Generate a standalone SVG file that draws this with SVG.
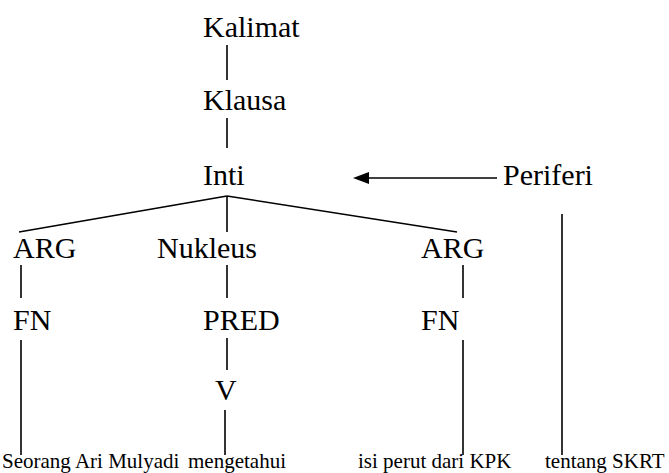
<svg xmlns="http://www.w3.org/2000/svg" width="669" height="473" viewBox="0 0 669 473">
<style>
text{font-family:'Liberation Serif','Times New Roman',serif;fill:#000}
.big{font-size:30px}
.small{font-size:21px}
.ln{stroke:#000;stroke-width:1.6;fill:none}
</style>
<rect width="669" height="473" fill="#fff"/>
<g id="connectors">
<line class="ln" x1="227" y1="45" x2="227" y2="80"/>
<line class="ln" x1="227" y1="118" x2="227" y2="148"/>
<line class="ln" x1="227" y1="196" x2="19" y2="232"/>
<line class="ln" x1="227" y1="196" x2="457" y2="232"/>
<line class="ln" x1="227" y1="196" x2="227" y2="232"/>
<line class="ln" x1="21" y1="265" x2="21" y2="298"/>
<line class="ln" x1="227" y1="265" x2="227" y2="298"/>
<line class="ln" x1="463" y1="265" x2="463" y2="298"/>
<line class="ln" x1="227" y1="338" x2="227" y2="370"/>
<line class="ln" x1="21" y1="340" x2="21" y2="455"/>
<line class="ln" x1="225" y1="410" x2="225" y2="455"/>
<line class="ln" x1="463" y1="340" x2="463" y2="455"/>
<line class="ln" x1="562" y1="214" x2="562" y2="455"/>
<line class="ln" stroke-width="2.4" x1="497" y1="178" x2="362" y2="178"/>
<path d="M369,172 L353,178 L369,184 Z" fill="#000"/>
</g>
<g id="n-kalimat"><text class="big" x="203" y="37">Kalimat</text></g>
<g id="n-klausa"><text class="big" x="203" y="110">Klausa</text></g>
<g id="n-inti"><text class="big" x="203" y="185">Inti</text></g>
<g id="n-periferi"><text class="big" x="503" y="185">Periferi</text></g>
<g id="n-arg1"><text class="big" x="13" y="258">ARG</text></g>
<g id="n-nukleus"><text class="big" x="157" y="258">Nukleus</text></g>
<g id="n-arg2"><text class="big" x="421" y="258">ARG</text></g>
<g id="n-fn1"><text class="big" x="13" y="330">FN</text></g>
<g id="n-pred"><text class="big" x="203" y="330">PRED</text></g>
<g id="n-fn2"><text class="big" x="421" y="330">FN</text></g>
<g id="n-v"><text class="big" x="215" y="400">V</text></g>
<g id="n-w1"><text class="small" x="2" y="468">Seorang Ari Mulyadi</text></g>
<g id="n-w2"><text class="small" x="188" y="468">mengetahui</text></g>
<g id="n-w3"><text class="small" x="358" y="468">isi perut dari KPK</text></g>
<g id="n-w4"><text class="small" x="545" y="468">tentang SKRT</text></g>
</svg>
